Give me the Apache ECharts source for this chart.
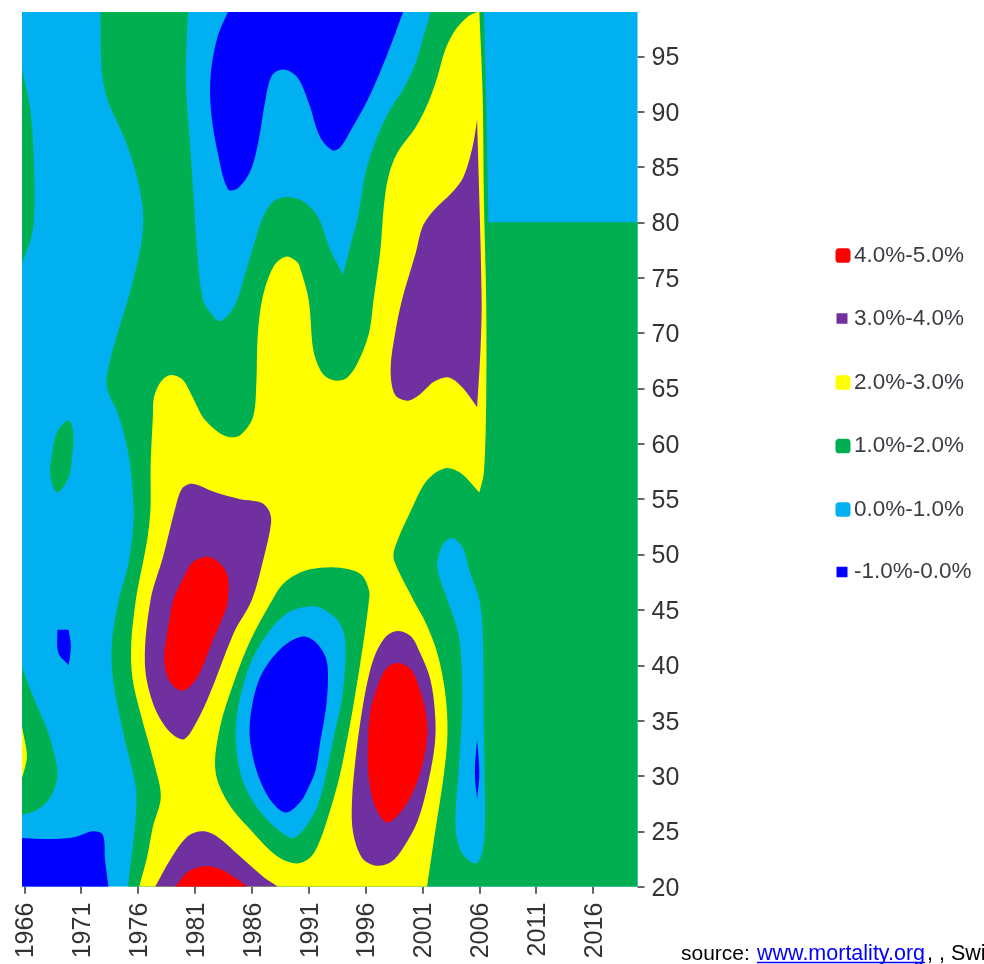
<!DOCTYPE html>
<html>
<head>
<meta charset="utf-8">
<title>Mortality improvement contour</title>
<script src="https://cdn.jsdelivr.net/npm/echarts@6/dist/echarts.min.js"></script>
<style>
html,body{margin:0;padding:0;background:#fff;overflow:hidden;}
#chart{width:984px;height:964px;}
</style>
</head>
<body>
<div id="chart"></div>
<script>
var yearTicks = [1966,1971,1976,1981,1986,1991,1996,2001,2006,2011,2016];
var ageTicks = [20,25,30,35,40,45,50,55,60,65,70,75,80,85,90,95];
var bandNames = ['4.0%-5.0%','3.0%-4.0%','2.0%-3.0%','1.0%-2.0%','0.0%-1.0%','-1.0%-0.0%'];

// contour outlines, [year, age]. a repeated point is a sharp corner
var wholeField = [[1965.8,20],[1965.8,20],[2019.9,20],[2019.9,20],[2019.9,99],[2019.9,99],[1965.8,99],[1965.8,99]];

var greenMain = [[1972.7,99],[1972.7,99],[1980.4,99],[1980.4,99],[1980.3,97.1],[1980.2,92.6],[1980.6,86.6],[1980.9,82],[1981.2,77.2],[1981.7,73],[1982.4,71.8],[1983.1,71.1],[1983.9,71.6],[1984.7,73],[1985.6,76],[1986.3,78.4],[1987,80.5],[1987.9,81.9],[1989.1,82.3],[1990.5,81.9],[1991.8,80.5],[1992.9,77.5],[1994,75.3],[1994,75.3],[1994.8,78.4],[1995.4,80.9],[1996,84.5],[1996.9,87.4],[1998,89.9],[1999.3,92],[2000.4,94.4],[2001.1,96.8],[2001.7,99],[2001.7,99],[2006.4,99],[2006.4,99],[2006.6,91.1],[2006.8,80],[2006.8,80],[2019.9,80],[2019.9,80],[2019.9,20],[2019.9,20],[1975.1,20],[1975.1,20],[1975.8,26.3],[1975.8,29],[1974.7,33.9],[1973.8,38.7],[1973.7,42],[1974.3,45.9],[1975.1,48.9],[1975.6,52.9],[1975.5,56.1],[1975.1,59.4],[1974.2,62.8],[1973.3,64.9],[1973.3,66.4],[1974.2,70],[1975.1,73],[1976,76.6],[1976.4,79],[1976.4,81.4],[1975.9,84.1],[1975.1,86.8],[1974.2,89],[1973.3,91.1],[1972.8,93.8]];
var greenLeftTop = [[1965.8,93.8],[1965.8,93.8],[1966.5,90.4],[1966.8,86.6],[1966.9,82],[1966.7,79],[1965.8,76.3],[1965.8,76.3]];
var greenIsland = [[1969.9,62.1],[1970.3,61],[1970.2,58.8],[1969.9,57],[1968.9,55.6],[1968.3,57],[1968.4,58.8],[1968.9,61.1]];
var greenLeftLow = [[1965.8,39.8],[1965.8,39.8],[1966.8,37.1],[1968,34.2],[1968.7,31.7],[1968.9,29.9],[1968.3,28.1],[1967.1,26.9],[1965.8,26.5],[1965.8,26.5]];
var yellowLeft = [[1965.8,34.4],[1965.8,34.4],[1966.2,32.3],[1966.2,31.4],[1965.8,29.8],[1965.8,29.8]];
var yellowMain = [[2005.8,99],[2005.8,99],[2006,99],[2006,99],[2006.3,91.1],[2006.4,82],[2006.6,73],[2006.6,64],[2006.4,57.4],[2006,55.6],[2006,55.6],[2004.3,57.4],[2003,57.8],[2001.4,56.7],[2000,54],[1998.6,50.7],[1998.5,49.5],[2000.2,45.9],[2001.3,43.8],[2002.3,41.1],[2003,37.5],[2003.2,33.9],[2002.9,30.3],[2002,24.2],[2001.4,20],[2001.4,20],[1976.1,20],[1976.1,20],[1976.8,22.7],[1977.3,25.4],[1978,28.1],[1977.5,30.8],[1976.2,35.7],[1975.5,38.9],[1975.4,42],[1975.8,45.9],[1976,47.1],[1976.8,51.3],[1977.1,54.3],[1977.1,57.9],[1977.3,62.4],[1977.4,64.2],[1978,65.6],[1978.8,66.2],[1979.9,65.8],[1980.9,64],[1981.7,62.4],[1983,61.1],[1984.1,60.6],[1985,60.8],[1986.1,62.4],[1986.4,65.5],[1986.5,69.4],[1986.9,73],[1987.9,76],[1989,76.9],[1990,76.4],[1990.3,75.7],[1991,73],[1991.4,68.5],[1992,66.7],[1992.6,66],[1993.5,65.7],[1994.4,66],[1995.3,67.3],[1996.3,70],[1996.7,73],[1997.3,77.5],[1997.6,81.4],[1998,84.1],[1998.8,86.3],[2000.4,88.6],[2001.5,90.8],[2002.3,93.1],[2003,95.6],[2003.9,97.4],[2005,98.6]];
var greenRing = [[1987.8,45.9],[1988.8,47.4],[1990.3,48.4],[1992,48.8],[1993.8,48.8],[1995.6,48.2],[1996.3,46.8],[1996.3,45.9],[1995.8,42],[1994.9,36.2],[1993.9,30.8],[1993.4,28.7],[1992.7,26.3],[1992,24.2],[1991.2,22.7],[1990,22.1],[1988.3,22.7],[1986.1,24.9],[1983.9,27.6],[1982.8,30.5],[1983.2,34.4],[1984.4,38.4],[1985.9,42.3]];
var blueRing = [[1990.9,45.3],[1992,45.2],[1993.5,44.1],[1994.2,42.3],[1994,37.5],[1993.2,33.5],[1992.6,30.5],[1992.2,28.7],[1991.6,26.9],[1990.5,25.1],[1989.4,24.4],[1986.8,26.7],[1985.2,29.6],[1984.6,33],[1984.8,36.2],[1985.9,40.2],[1987.4,42.9],[1989.1,44.7]];
var darkCore = [[1990.5,42.6],[1991.6,42.1],[1992.5,40.7],[1992.7,38.9],[1992.5,36],[1992,33],[1991.6,30.5],[1991,29],[1990.3,27.7],[1989,26.7],[1987.8,27.6],[1986.8,29.4],[1986.1,31.7],[1985.8,33.9],[1986,36.2],[1986.6,38.6],[1987.6,40.4],[1989,41.9]];
var blueIsland = [[2003.6,51.5],[2004.5,50.7],[2005.2,48.3],[2006,45.9],[2006.3,42.9],[2006.4,33.9],[2006.5,26.3],[2006.3,23.3],[2005.7,22.1],[2004.5,23],[2003.9,25.4],[2004.2,30.8],[2004.5,36.9],[2004.2,42.6],[2003.2,45.9],[2002.3,48.9],[2002.8,50.9]];
var darkSliver = [[2005.8,33.3],[2005.8,33.3],[2006,30.3],[2005.8,27.9],[2005.8,27.9],[2005.6,30.3]];
var purpleUpper = [[1980.8,56.4],[1982.6,55.7],[1985,55],[1986.8,54.7],[1987.5,54],[1987.7,52.9],[1987,49.5],[1986,45.9],[1984.4,42.9],[1982.1,36.9],[1980.6,33.9],[1979.9,33.3],[1978.6,34.2],[1977.3,36.6],[1976.6,40.2],[1977.1,45.9],[1978.2,49.8],[1979.3,54.3],[1979.9,56]];
var redUpper = [[1982.1,49.8],[1983.2,49.2],[1983.9,48],[1983.9,45.9],[1983.7,45],[1982.6,42.3],[1981.2,38.9],[1979.9,37.7],[1978.8,38.5],[1978.3,40.5],[1978.7,43.8],[1979.1,45.9],[1979.9,47.7],[1980.8,49.3]];
var purpleBottom = [[1977.5,20],[1977.5,20],[1978.8,22.4],[1980.3,24.5],[1981.7,25],[1983,24.5],[1985,22.7],[1987,20.9],[1988.3,20],[1988.3,20]];
var redBottom = [[1979.3,20],[1979.3,20],[1980.2,21.2],[1981.5,21.8],[1983,21.7],[1984.4,20.9],[1985.6,20],[1985.6,20]];
var purpleRight = [[1998.9,43.1],[2000,42.6],[2000.8,41.1],[2001.7,38.7],[2002.1,35.7],[2002.1,33],[2001.5,29.4],[2000.6,26],[1999.3,23.5],[1998.2,22.2],[1996.9,21.9],[1995.7,22.6],[1994.9,24.9],[1994.8,27.6],[1995.1,31.4],[1995.6,35.3],[1996.2,38.7],[1996.9,41.1],[1997.9,42.7]];
var redRight = [[1998.9,40.2],[2000,39.6],[2000.7,38],[2001.3,35.7],[2001.4,33.3],[2000.8,30.3],[1999.8,27.8],[1998.6,26.2],[1997.8,25.8],[1996.9,27.1],[1996.3,29.6],[1996.2,32.6],[1996.4,35.7],[1997,38],[1997.9,39.8]];
var purpleTop = [[2005.8,89.3],[2005.8,89.3],[2006.2,73.3],[2006.1,68.5],[2005.8,63.3],[2005.8,63.3],[2004.5,65.1],[2003.3,66],[2002,65.6],[2000.7,64.4],[1999.7,63.9],[1998.6,64.4],[1998.2,66.7],[1998.6,70],[1999.2,73],[2000.4,77.2],[2001,79.6],[2002,81.1],[2003.6,82.7],[2004.6,84.1],[2005.4,86.8]];
var darkTop = [[1983.9,99],[1983.9,99],[1999.3,99],[1999.3,99],[1997.8,94.9],[1996.2,91.1],[1994.8,88.5],[1993.8,86.8],[1993.1,86.5],[1992,87.7],[1991,90.8],[1990,93.1],[1988.8,93.8],[1987.8,93.3],[1987.2,91.1],[1986.6,87.4],[1985.9,84.7],[1984.8,83.1],[1983.9,83],[1983,86.3],[1982.4,90.2],[1982.4,93.5],[1983,96.8]];
var darkSpot = [[1968.9,43.2],[1968.9,43.2],[1969.9,43.2],[1969.9,43.2],[1970.1,41.7],[1969.9,40],[1969.9,40],[1969,41.1]];
var darkCorner = [[1965.8,24.4],[1965.8,24.4],[1968.3,24.3],[1970.5,24.5],[1972,25],[1972.9,24.7],[1973.1,22.4],[1973.4,20],[1973.4,20],[1965.8,20],[1965.8,20]];

var bandColors = {
	'4.0%-5.0%':'#FF0000',
	'3.0%-4.0%':'#7030A0',
	'2.0%-3.0%':'#FFFF00',
	'1.0%-2.0%':'#00B050',
	'0.0%-1.0%':'#00B0F0',
	'-1.0%-0.0%':'#0000FF'
};

// painted back to front, nested bands go on top
var layers = [
	['0.0%-1.0%',wholeField],
	['1.0%-2.0%',greenMain],['1.0%-2.0%',greenLeftTop],['1.0%-2.0%',greenIsland],['1.0%-2.0%',greenLeftLow],
	['2.0%-3.0%',yellowLeft],['2.0%-3.0%',yellowMain],
	['1.0%-2.0%',greenRing],['0.0%-1.0%',blueRing],['-1.0%-0.0%',darkCore],
	['0.0%-1.0%',blueIsland],['-1.0%-0.0%',darkSliver],
	['3.0%-4.0%',purpleUpper],['4.0%-5.0%',redUpper],
	['3.0%-4.0%',purpleBottom],['4.0%-5.0%',redBottom],
	['3.0%-4.0%',purpleRight],['4.0%-5.0%',redRight],
	['3.0%-4.0%',purpleTop],
	['-1.0%-0.0%',darkTop],['-1.0%-0.0%',darkSpot],['-1.0%-0.0%',darkCorner]
];

var fontName = '"Liberation Sans", Arial, sans-serif';

function makeLayer(layer){
	var color = bandColors[layer[0]];
	return {
		name:layer[0],
		type:'custom',
		coordinateSystem:'cartesian2d',
		clip:true,
		silent:true,
		animation:false,
		itemStyle:{color:color},
		data:layer[1],
		renderItem:function(params,api){
			if(params.dataIndex!==0){
				return null;
			}
			var pts = layer[1].map(function(p){
				return api.coord(p);
			});
			return {
				type:'polygon',
				shape:{points:pts,smooth:0.33},
				style:{fill:color,stroke:null}
			};
		}
	};
}

// one small legend per band, the markers in the picture differ in size
function makeLegend(name,i){
	var rows = [255,318,382,445.5,509,571.5];
	var boxes = [15,11,15,15,15,11];
	var lefts = [835.5,836.5,835.5,835.5,835.5,836.5];
	return {
		orient:'vertical',
		left:lefts[i],
		top:rows[i]-11,
		padding:0,
		itemWidth:boxes[i],
		itemHeight:boxes[i]===15?14.5:10.5,
		icon:boxes[i]===15?'roundRect':'rect',
		selectedMode:false,
		data:[name],
		textStyle:{
			fontFamily:fontName,
			fontSize:22.5,
			color:'#3c3c44',
			padding:[0,0,0,854-(lefts[i]+boxes[i]+5)]
		}
	};
}

var chart = echarts.init(document.getElementById('chart'),null,{renderer:'canvas'});
chart.setOption({
	animation:false,
	backgroundColor:'#fff',
	grid:{left:22,top:12,width:615.5,height:874.7},
	xAxis:{
		type:'value',
		min:1965.8,
		max:2019.9,
		axisLine:{show:false},
		splitLine:{show:false},
		axisTick:{show:true,length:7,customValues:yearTicks,lineStyle:{color:'#333',width:1.5}},
		axisLabel:{
			customValues:yearTicks,
			rotate:90,
			margin:16,
			verticalAlign:'top',
			lineHeight:4,
			fontFamily:fontName,
			fontSize:25,
			color:'#333',
			formatter:function(v){return String(v);}
		}
	},
	yAxis:{
		type:'value',
		position:'right',
		min:20,
		max:99,
		axisLine:{show:false},
		splitLine:{show:false},
		axisTick:{show:true,length:7,customValues:ageTicks,lineStyle:{color:'#333',width:1.5}},
		axisLabel:{
			customValues:ageTicks,
			margin:14,
			verticalAlign:'top',
			lineHeight:4,
			fontFamily:fontName,
			fontSize:25,
			color:'#333',
			formatter:function(v){return String(v);}
		}
	},
	legend:bandNames.map(makeLegend),
	series:layers.map(makeLayer),
	graphic:[
		{type:'text',x:681,y:965,style:{text:'source:',fontFamily:fontName,fontSize:21,fill:'#000',verticalAlign:'bottom'}},
		{type:'text',x:757,y:965,style:{text:'www.mortality.org',fontFamily:fontName,fontSize:21.5,fill:'#0000FF',verticalAlign:'bottom'}},
		{type:'line',shape:{x1:757,y1:962.5,x2:925,y2:962.5},style:{stroke:'#0000FF',lineWidth:1.5}},
		{type:'text',x:927,y:965,style:{text:', , Swi',fontFamily:fontName,fontSize:21.5,fill:'#000',verticalAlign:'bottom'}}
	]
});
</script>
</body>
</html>
